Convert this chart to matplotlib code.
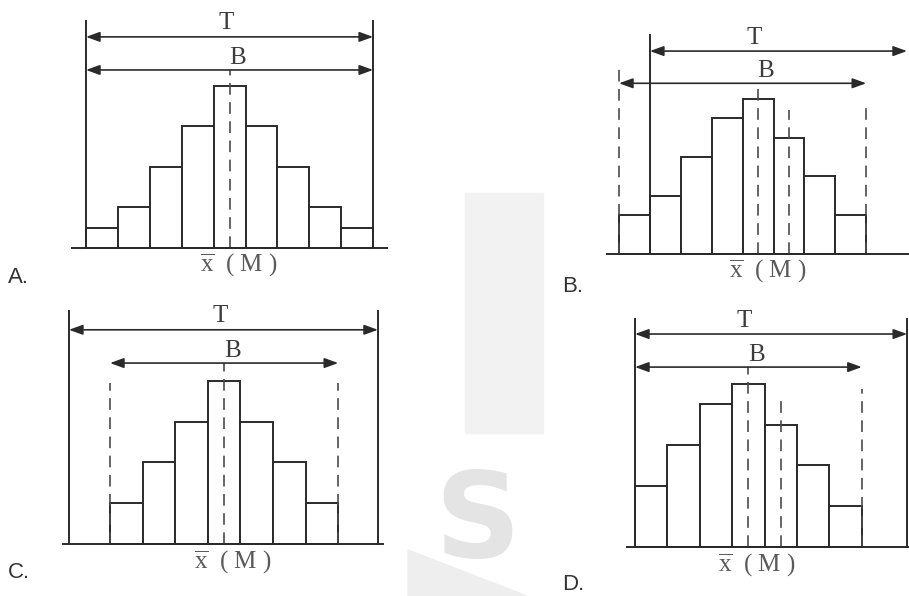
import numpy as np
import matplotlib.pyplot as plt
from matplotlib.patches import Rectangle, Polygon

plt.rcParams['mathtext.fontset'] = 'custom'
plt.rcParams['mathtext.rm'] = 'Liberation Serif'
plt.rcParams['mathtext.it'] = 'Liberation Serif:italic'

W, H = 909, 596

# frequencies of each histogram (A, B, C, D)
freq_a = [1, 2, 4, 6, 8, 6, 4, 2, 1]
freq_b = [2, 3, 5, 7, 8, 6, 4, 2]
freq_c = [2, 4, 6, 8, 6, 4, 2]
freq_d = [3, 5, 7, 8, 6, 4, 2]
# bin index of the mean x and of the median M (None = same as mean)
mean_bins = [4, 4, 3, 3]
median_bins = [None, 5, None, 4]
# tolerance range T and distribution range B (in bin units)
t_ranges = [(-0.5, 8.5), (0.5, 8.82), (-1.76, 7.72), (-0.5, 7.9)]
b_ranges = [(-0.5, 8.5), (-0.5, 7.5), (-0.5, 6.5), (-0.5, 6.5)]
panel_names = ['A.', 'B.', 'C.', 'D.']

LC = '#2a2a2a'
LW = 1.4

fig = plt.figure(figsize=(W / 100, H / 100), dpi=100)
fig.patch.set_facecolor('white')

# faint watermark shapes
fig.add_artist(Rectangle((465 / W, 1 - 433 / H), 78 / W, 240 / H,
                         transform=fig.transFigure, color='#f2f2f2', zorder=-2))
fig.add_artist(Polygon([(408 / W, 1 - 550 / H), (527 / W, 0), (408 / W, 0)],
                       transform=fig.transFigure, color='#eeeeee', zorder=-2))
fig.text(477 / W, 1 - 557 / H, 'S', fontsize=86, fontweight='bold',
         family='DejaVu Sans', color='#e4e4e4', ha='center', va='baseline', zorder=-1)


def panel(left, bw, base, unit, box):
    px0, py0, px1, py1 = box
    ax = fig.add_axes([px0 / W, 1 - py1 / H, (px1 - px0) / W, (py1 - py0) / H])
    ax.set_xlim((px0 - left) / bw - 0.5, (px1 - left) / bw - 0.5)
    ax.set_ylim((base - py1) / unit, (base - py0) / unit)
    ax.axis('off')
    return ax


def arrow(ax, x0, x1, y):
    ax.annotate('', xy=(x1, y), xytext=(x0, y),
                arrowprops=dict(arrowstyle='<|-|>,head_length=0.55,head_width=0.2',
                                color=LC, lw=1.2, mutation_scale=15,
                                shrinkA=0, shrinkB=0))


def dashed(ax, x, y1):
    ax.plot([x, x], [0, y1], color='#4a4a4a', lw=1.2, dashes=(7, 4.5))


# placement of each panel: left edge of first bin, bin width, baseline, unit (px)
layout = [
    (86, 31.9, 248, 20.3, (0, 0, 450, 296)),
    (619, 30.9, 254, 19.4, (450, 0, 909, 296)),
    (110, 32.6, 544, 20.4, (0, 296, 450, 596)),
    (635, 32.4, 547, 20.4, (450, 296, 909, 596)),
]
levels = [(10.4, 8.77, 11.2), (10.46, 8.8, 11.3), (10.5, 8.87, 11.4), (10.44, 8.82, 11.2)]
base_ext = [(-0.94, 8.94), (-0.89, 9.6), (-1.94, 7.87), (-0.75, 9.6)]
extra_dash = [[], [(-0.5, 9.6), (7.5, 7.9)], [(-0.5, 7.9), (6.5, 7.9)], [(6.5, 7.75)]]
median_top = [None, 7.4, None, 7.3]
t_vert = [(True, True), (True, False), (True, True), (True, True)]

freqs = [freq_a, freq_b, freq_c, freq_d]
for i, freq in enumerate(freqs):
    ax = panel(*layout[i])
    t_y, b_y, t_top = levels[i]
    x = np.arange(len(freq))
    ax.bar(x, freq, width=1.0, color='white', edgecolor=LC, linewidth=LW, zorder=2)
    ax.plot(base_ext[i], [0, 0], color=LC, lw=LW, zorder=3)

    t0, t1 = t_ranges[i]
    if t_vert[i][0]:
        ax.plot([t0, t0], [0, t_top], color=LC, lw=LW, zorder=3)
    if t_vert[i][1]:
        ax.plot([t1, t1], [0, t_top], color=LC, lw=LW, zorder=3)
    arrow(ax, t0, t1, t_y)
    arrow(ax, b_ranges[i][0], b_ranges[i][1], b_y)

    m = mean_bins[i]
    dashed(ax, m, b_y)
    if median_bins[i] is not None:
        dashed(ax, median_bins[i], median_top[i])
    for xd, yd in extra_dash[i]:
        dashed(ax, xd, yd)

    ax.text(m - 0.12, t_y + 0.12, 'T', family='Liberation Serif', fontsize=18,
            color='#3c3c3c', ha='center', va='bottom')
    ax.text(m + 0.25, b_y + 0.05, 'B', family='Liberation Serif', fontsize=18,
            color='#3c3c3c', ha='center', va='bottom')
    ax.text(m - 0.93, -0.22, r'$\overline{\mathrm{x}}$  ( M )', family='Liberation Serif',
            fontsize=18, color='#5a5a5a', ha='left', va='top')

# option letters
letter_pos = [(8, 278), (562, 287), (8, 572), (562, 584)]
for name, (lx, ly) in zip(panel_names, letter_pos):
    fig.text(lx / W, 1 - ly / H, name, family='Liberation Sans', fontsize=16,
             color='#333333', ha='left', va='center')

plt.savefig('out.png', dpi=100)
